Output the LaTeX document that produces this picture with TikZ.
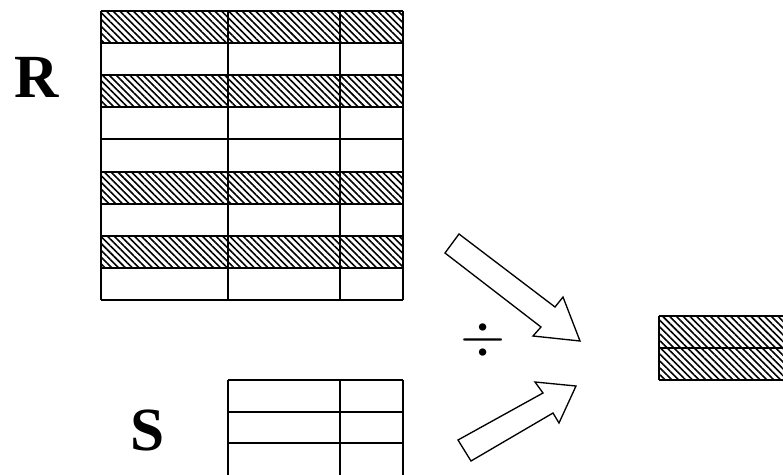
\documentclass[tikz,border=0pt]{standalone}
\usepackage{fontspec}
\setmainfont{Liberation Serif}
\usetikzlibrary{patterns.meta}
\begin{document}
\begin{tikzpicture}[x=.75pt, y=-.75pt, line width=1.5pt,
  hatch/.style={pattern={Lines[angle=-45, distance=3.6pt, line width=1.2pt]}},
  big/.style={font=\fontsize{46}{46}\selectfont\bfseries, inner sep=0pt},
  fatarrow/.style={line width=1pt, fill=white}]
\useasboundingbox (0,0) rectangle (783,475);
% relation R
\foreach \k in {0,2,5,7}
  \fill[hatch] (101,11+32.1*\k) rectangle (403,11+32.1*\k+32.1);
\foreach \k in {0,...,9}
  \draw (101,11+32.1*\k) -- (403,11+32.1*\k);
\foreach \x in {101,228,340,403}
  \draw (\x,11) -- (\x,300);
\node[big] (R) at (37,77) {R};
% relation S
\foreach \y in {380,412,443}
  \draw (228,\y) -- (403,\y);
\foreach \x in {228,340,403}
  \draw (\x,380) -- (\x,480);
\node[big] (S) at (148,430) {S};
% result
\fill[hatch] (659,316) rectangle (790,380);
\foreach \y in {316,348,380}
  \draw (659,\y) -- (790,\y);
\draw (659,316) -- (659,380);
% operator and arrows
\node[font=\Huge, scale=1.75, inner sep=0pt] (div) at (483,340) {$\div$};
\draw[fatarrow] (459,234) -- (555,307) -- (563,297) -- (580,341)
  -- (533,336) -- (541,327) -- (445,253) -- cycle;
\draw[fatarrow] (458,440) -- (543,393) -- (535,382) -- (576,386)
  -- (559,423) -- (553,413) -- (471,461) -- cycle;
\end{tikzpicture}
\end{document}
